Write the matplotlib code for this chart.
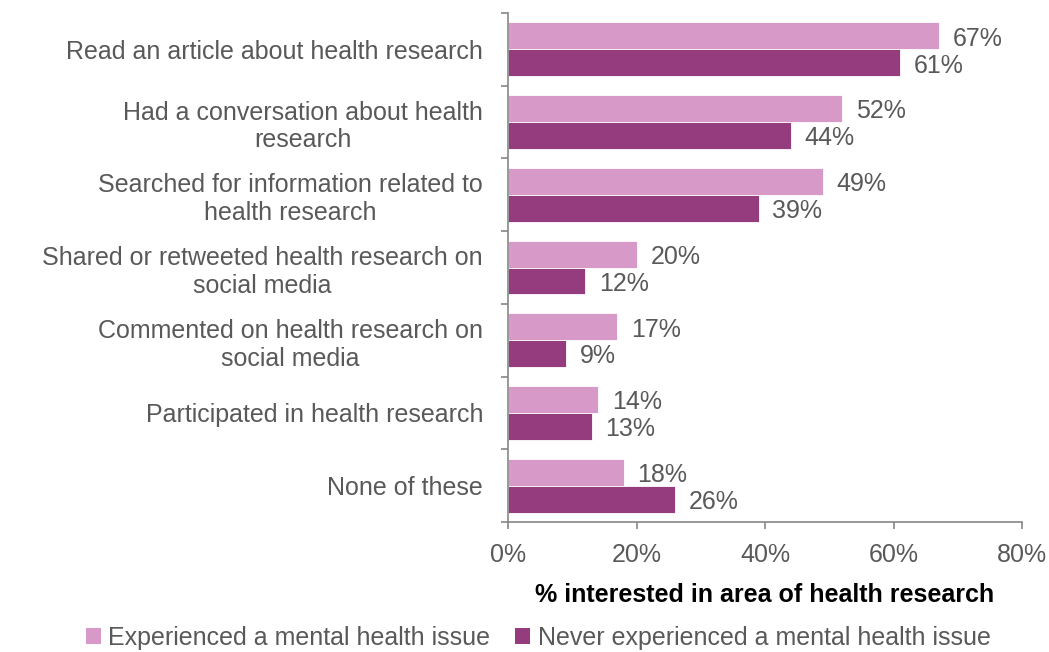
import numpy as np
import matplotlib
matplotlib.use("Agg")
import matplotlib.pyplot as plt
from matplotlib.ticker import FixedLocator, PercentFormatter
from matplotlib.patches import Patch

categories = [
    "Read an article about health research",
    "Had a conversation about health\nresearch",
    "Searched for information related to\nhealth research",
    "Shared or retweeted health research on\nsocial media",
    "Commented on health research on\nsocial media",
    "Participated in health research",
    "None of these",
]
experienced = [67, 52, 49, 20, 17, 14, 18]
never_experienced = [61, 44, 39, 12, 9, 13, 26]
series_names = ["Experienced a mental health issue",
                "Never experienced a mental health issue"]
xticks = [0, 20, 40, 60, 80]

light = "#D699C8"
dark = "#943C7E"
grey_text = "#595959"
axis_grey = "#868686"
fs = 18

plt.rcParams["font.family"] = ["Liberation Sans", "DejaVu Sans"]

fig = plt.figure(figsize=(10.49, 6.52), dpi=100)
ax = fig.add_axes([0.4843, 0.1994, 0.49, 0.7806])

y = np.arange(len(categories))
h = 0.37
ax.barh(y - h / 2, experienced, height=h, color=light, edgecolor="white", linewidth=0.6)
ax.barh(y + h / 2, never_experienced, height=h, color=dark, edgecolor="white", linewidth=0.6)

for yi, v in zip(y - h / 2, experienced):
    ax.annotate(f"{v}%", (v, yi), xytext=(10, -2), textcoords="offset points",
                ha="left", va="center", fontsize=fs, color=grey_text)
for yi, v in zip(y + h / 2, never_experienced):
    ax.annotate(f"{v}%", (v, yi), xytext=(10, -2), textcoords="offset points",
                ha="left", va="center", fontsize=fs, color=grey_text)

ax.set_ylim(len(categories) - 0.5, -0.5)
ax.set_xlim(0, 80)
ax.set_yticks(y)
ax.set_yticklabels(categories, fontsize=fs, color=grey_text)
for lbl in ax.get_yticklabels():
    lbl.set_multialignment("center")
ax.tick_params(axis="y", which="major", length=0, pad=18)
ax.yaxis.set_minor_locator(FixedLocator(np.arange(-0.5, len(categories), 1)))
ax.tick_params(axis="y", which="minor", length=5, color=axis_grey, width=1.2, direction="out")

ax.set_xticks(xticks)
ax.xaxis.set_major_formatter(PercentFormatter(decimals=0))
ax.tick_params(axis="x", length=5, color=axis_grey, width=1.2, labelsize=fs,
               labelcolor=grey_text, pad=10)

for side in ["top", "right"]:
    ax.spines[side].set_visible(False)
for side in ["left", "bottom"]:
    ax.spines[side].set_color(axis_grey)
    ax.spines[side].set_linewidth(1.2)

ax.set_xlabel("% interested in area of health research", fontsize=fs,
              fontweight="bold", color="black", labelpad=12)

handles = [Patch(facecolor=light), Patch(facecolor=dark)]
fig.legend(handles, series_names, loc="center", bbox_to_anchor=(0.513, 0.022),
           ncol=2, frameon=False, fontsize=fs, labelcolor=grey_text,
           handlelength=0.6, handleheight=0.6, handletextpad=0.3, columnspacing=1.0)

fig.savefig("out.png", dpi=100, facecolor="white")
